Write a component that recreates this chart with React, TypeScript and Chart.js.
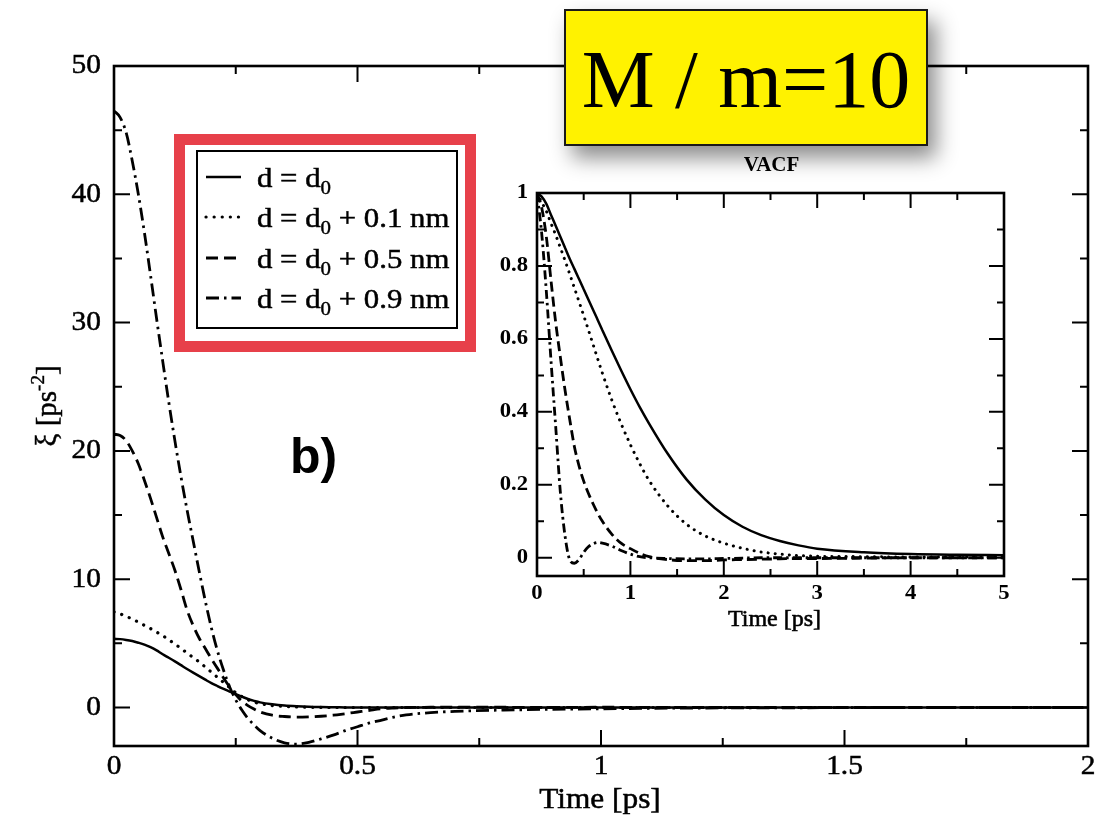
import React, { useEffect, useRef } from 'react';
import { Chart, registerables } from 'chart.js';

Chart.register(...registerables);

// ---- memory kernel ξ(t) [ps^-2] ----
const xiTime = [
  0, 0.0125, 0.025, 0.0375, 0.05, 0.0625, 0.075, 0.0875, 0.1, 0.1125, 0.125, 0.1375,
  0.15, 0.1625, 0.175, 0.1875, 0.2, 0.2125, 0.225, 0.2375, 0.25, 0.2625, 0.275, 0.2875,
  0.3, 0.325, 0.35, 0.375, 0.4, 0.425, 0.45, 0.475, 0.5, 0.525, 0.55, 0.575, 0.6, 0.65,
  0.7, 0.8, 0.9, 1.0, 1.2, 1.4, 1.6, 1.8, 2.0,
];
const xiD0 = [
  5.35, 5.33, 5.27, 5.18, 5.05, 4.9, 4.7, 4.45, 4.15, 3.88, 3.6, 3.3,
  3.0, 2.72, 2.45, 2.17, 1.9, 1.67, 1.45, 1.24, 1.05, 0.85, 0.66, 0.52,
  0.4, 0.25, 0.15, 0.09, 0.05, 0.03, 0.02, 0.01, 0, 0, 0, 0, 0, 0,
  0, 0, 0, 0, 0, 0, 0, 0, 0,
];
const xiD01 = [
  7.45, 7.3, 7.1, 6.9, 6.65, 6.4, 6.15, 5.88, 5.6, 5.28, 4.95, 4.6,
  4.25, 3.9, 3.55, 3.15, 2.75, 2.35, 1.95, 1.55, 1.15, 0.85, 0.6, 0.42,
  0.3, 0.15, 0.08, 0.04, 0.02, 0.01, 0, 0, 0, 0, 0, 0, 0, 0,
  0, 0, 0, 0, 0, 0, 0, 0, 0,
];
const xiD05 = [
  21.3, 21.2, 20.8, 20.0, 19.0, 17.7, 16.3, 14.8, 13.3, 12.0, 10.7, 9.2,
  7.6, 6.4, 5.4, 4.6, 3.8, 3.05, 2.3, 1.6, 1.0, 0.5, 0.15, -0.12,
  -0.35, -0.6, -0.7, -0.75, -0.73, -0.68, -0.6, -0.48, -0.35, -0.22, -0.1, -0.04, 0, 0.02,
  0.03, 0.02, 0, 0.02, 0, 0, 0, 0, 0,
];
const xiD09 = [
  46.5, 46.0, 44.8, 42.6, 40.0, 37.0, 33.7, 30.3, 27.0, 23.8, 20.8, 18.0,
  15.4, 13.0, 10.6, 8.3, 6.2, 4.4, 2.9, 1.6, 0.6, -0.2, -0.85, -1.35,
  -1.8, -2.4, -2.75, -2.85, -2.72, -2.45, -2.15, -1.8, -1.5, -1.2, -0.98, -0.75, -0.58, -0.4,
  -0.3, -0.2, -0.14, -0.1, -0.04, -0.02, 0, 0, 0,
];
const xiXTicks = [0, 0.5, 1, 1.5, 2];
const xiXMinor = [0.25, 0.75, 1.25, 1.75];
const xiYTicks = [0, 10, 20, 30, 40, 50];
const xiYMinor = [5, 15, 25, 35, 45];

// ---- velocity autocorrelation function (inset) ----
const vacfTime = [
  0, 0.05, 0.1, 0.15, 0.2, 0.25, 0.3, 0.35, 0.4, 0.45, 0.5, 0.55, 0.6, 0.65, 0.7,
  0.8, 0.9, 1.0, 1.1, 1.2, 1.4, 1.6, 1.8, 2.0, 2.2, 2.4, 2.6, 2.8, 3.0, 3.5, 4.0, 4.5, 5.0,
];
const vacfD0 = [
  1.0, 0.99, 0.97, 0.94, 0.91, 0.88, 0.85, 0.82, 0.792, 0.764, 0.736, 0.708, 0.68, 0.652, 0.624,
  0.568, 0.514, 0.462, 0.413, 0.368, 0.285, 0.215, 0.16, 0.117, 0.085, 0.062, 0.046, 0.034, 0.025, 0.015, 0.01, 0.008, 0.007,
];
const vacfD01 = [
  1.0, 0.975, 0.95, 0.917, 0.885, 0.85, 0.815, 0.778, 0.74, 0.702, 0.664, 0.625, 0.585, 0.545, 0.506,
  0.433, 0.368, 0.31, 0.258, 0.212, 0.142, 0.092, 0.06, 0.04, 0.026, 0.016, 0.01, 0.006, 0.004, 0.003, 0.002, 0.002, 0.002,
];
const vacfD05 = [
  1.0, 0.96, 0.88, 0.76, 0.645, 0.55, 0.46, 0.38, 0.305, 0.252, 0.21, 0.177, 0.148, 0.122, 0.1,
  0.065, 0.04, 0.025, 0.012, 0.003, -0.005, -0.008, -0.008, -0.006, -0.005, -0.004, -0.003, -0.002, -0.002, -0.001, 0, 0, 0,
];
const vacfD09 = [
  1.0, 0.89, 0.73, 0.54, 0.36, 0.18, 0.06, -0.005, -0.015, -0.005, 0.015, 0.03, 0.038, 0.042, 0.04,
  0.032, 0.02, 0.01, 0.003, 0, -0.002, -0.003, -0.003, -0.002, -0.001, 0, 0, 0, 0, 0, 0, 0, 0,
];
const vacfXTicks = [0, 1, 2, 3, 4, 5];
const vacfXMinor = [0.5, 1.5, 2.5, 3.5, 4.5];
const vacfYTicks = [0, 0.2, 0.4, 0.6, 0.8, 1];
const vacfYMinor = [0.1, 0.3, 0.5, 0.7, 0.9];

// legend: "d = d" + subscript "0" + suffix
const legendSuffix = ['', ' + 0.1 nm', ' + 0.5 nm', ' + 0.9 nm'];

const INK = '#000';
const SERIF = '"Liberation Serif", "Times New Roman", serif';

type LineStyle = { dash: number[]; width: number; cap: CanvasLineCap };
const mainStyles: LineStyle[] = [
  { dash: [], width: 2.5, cap: 'butt' },
  { dash: [0.1, 8], width: 3.2, cap: 'round' },
  { dash: [12, 6], width: 2.8, cap: 'butt' },
  { dash: [13, 5, 2.5, 5], width: 2.8, cap: 'butt' },
];
const insetStyles: LineStyle[] = [
  { dash: [], width: 2.5, cap: 'butt' },
  { dash: [0.1, 7], width: 3, cap: 'round' },
  { dash: [10, 5], width: 2.8, cap: 'butt' },
  { dash: [9, 4, 2.5, 4], width: 2.8, cap: 'butt' },
];

function makeDatasets(time: number[], series: number[][], styles: LineStyle[]) {
  return series.map((vals, i) => ({
    label: 'd = d0' + legendSuffix[i],
    data: vals.map((v, k) => ({ x: time[k], y: v })),
    borderColor: INK,
    borderWidth: styles[i].width,
    borderDash: styles[i].dash,
    borderCapStyle: styles[i].cap,
    pointRadius: 0,
    fill: false,
    cubicInterpolationMode: 'monotone' as const,
  }));
}

// text drawn with a slight horizontal stretch and a thin outline for weight
function text(ctx: CanvasRenderingContext2D, s: string, x: number, y: number, sx: number, weight = 0) {
  ctx.save();
  ctx.translate(x, y);
  ctx.scale(sx, 1);
  ctx.fillText(s, 0, 0);
  if (weight > 0) {
    ctx.lineWidth = weight;
    ctx.strokeStyle = ctx.fillStyle as string;
    ctx.strokeText(s, 0, 0);
  }
  ctx.restore();
}

type AxisCfg = {
  xTicks: number[]; xMinor: number[]; yTicks: number[]; yMinor: number[];
  major: number; minor: number; frame: number;
  tickFont: string; yLabelGap: number; xLabelGap: number; sx: number; weight: number;
};

function drawAxes(chart: any, c: AxisCfg) {
  const { ctx, chartArea: a } = chart;
  const xs = chart.scales.x;
  const ys = chart.scales.y;
  ctx.save();
  ctx.strokeStyle = INK;
  ctx.setLineDash([]);
  ctx.lineWidth = 2;
  ctx.beginPath();
  const tx = (v: number, len: number) => {
    const p = xs.getPixelForValue(v);
    ctx.moveTo(p, a.bottom); ctx.lineTo(p, a.bottom - len);
    ctx.moveTo(p, a.top); ctx.lineTo(p, a.top + len);
  };
  const ty = (v: number, len: number) => {
    const p = ys.getPixelForValue(v);
    ctx.moveTo(a.left, p); ctx.lineTo(a.left + len, p);
    ctx.moveTo(a.right, p); ctx.lineTo(a.right - len, p);
  };
  c.xTicks.forEach((v) => tx(v, c.major));
  c.xMinor.forEach((v) => tx(v, c.minor));
  c.yTicks.forEach((v) => ty(v, c.major));
  c.yMinor.forEach((v) => ty(v, c.minor));
  ctx.stroke();
  ctx.lineWidth = c.frame;
  ctx.strokeRect(a.left, a.top, a.right - a.left, a.bottom - a.top);

  ctx.fillStyle = INK;
  ctx.font = c.tickFont;
  ctx.textBaseline = 'middle';
  ctx.textAlign = 'right';
  c.yTicks.forEach((v) => text(ctx, String(v), a.left - c.yLabelGap, ys.getPixelForValue(v), c.sx, c.weight));
  ctx.textAlign = 'center';
  c.xTicks.forEach((v) => text(ctx, String(v), xs.getPixelForValue(v), a.bottom + c.xLabelGap, c.sx, c.weight));
  ctx.restore();
}

function legendSample(ctx: CanvasRenderingContext2D, s: LineStyle, x0: number, x1: number, y: number) {
  ctx.save();
  ctx.strokeStyle = INK;
  ctx.lineWidth = s.width;
  ctx.lineCap = s.cap;
  ctx.setLineDash(s.dash);
  ctx.beginPath();
  ctx.moveTo(x0, y);
  ctx.lineTo(x1, y);
  ctx.stroke();
  ctx.restore();
}

const mainPlugin = {
  id: 'kernelDecor',
  beforeDraw(chart: any) {
    const { ctx, width, height } = chart;
    ctx.save();
    ctx.fillStyle = '#fff';
    ctx.fillRect(0, 0, width, height);
    ctx.restore();
  },
  afterDatasetsDraw(chart: any) {
    const { ctx, chartArea: a } = chart;
    drawAxes(chart, {
      xTicks: xiXTicks, xMinor: xiXMinor, yTicks: xiYTicks, yMinor: xiYMinor,
      major: 16, minor: 8, frame: 2.6,
      tickFont: `28px ${SERIF}`, yLabelGap: 13, xLabelGap: 21, sx: 1.05, weight: 0.5,
    });
    ctx.save();
    ctx.fillStyle = INK;
    // x title
    ctx.font = `29px ${SERIF}`;
    ctx.textAlign = 'center';
    ctx.textBaseline = 'middle';
    text(ctx, 'Time [ps]', (a.left + a.right) / 2 - 1, a.bottom + 54, 1.08, 0.5);

    // y title, rotated, with superscript
    ctx.save();
    ctx.translate(a.left - 68, (a.top + a.bottom) / 2);
    ctx.rotate(-Math.PI / 2);
    const bigF = `29px ${SERIF}`;
    const supF = `19px ${SERIF}`;
    ctx.font = bigF;
    const w1 = ctx.measureText('ξ [ps').width;
    const w3 = ctx.measureText(']').width;
    ctx.font = supF;
    const w2 = ctx.measureText('-2').width;
    let x = -(w1 + w2 + w3) / 2;
    ctx.textAlign = 'left';
    ctx.textBaseline = 'alphabetic';
    ctx.font = bigF;
    text(ctx, 'ξ [ps', x, 10, 1, 0.5);
    x += w1;
    ctx.font = supF;
    text(ctx, '-2', x, -2, 1, 0.4);
    x += w2;
    ctx.font = bigF;
    text(ctx, ']', x, 10, 1, 0.5);
    ctx.restore();

    // panel tag
    ctx.font = `bold 50px "Liberation Sans", Arial, sans-serif`;
    ctx.textAlign = 'left';
    ctx.textBaseline = 'alphabetic';
    ctx.fillText('b)', 290, 473);

    // legend with red frame
    ctx.fillStyle = '#fff';
    ctx.fillRect(174, 134, 302, 218);
    ctx.strokeStyle = '#E7404A';
    ctx.lineWidth = 11;
    ctx.strokeRect(179.5, 139.5, 291, 207);
    ctx.strokeStyle = INK;
    ctx.lineWidth = 2;
    ctx.strokeRect(197, 151, 260, 177);
    const rows = [177, 217, 258, 298];
    const sx = 1.1;
    rows.forEach((ry, i) => {
      legendSample(ctx, mainStyles[i], 206, 241, ry);
      ctx.fillStyle = INK;
      ctx.textAlign = 'left';
      ctx.textBaseline = 'alphabetic';
      ctx.font = `28px ${SERIF}`;
      let lx = 257;
      text(ctx, 'd = d', lx, ry + 10, sx, 0.5);
      lx += ctx.measureText('d = d').width * sx;
      ctx.font = `19px ${SERIF}`;
      text(ctx, '0', lx, ry + 17, sx, 0.4);
      lx += ctx.measureText('0').width * sx;
      ctx.font = `28px ${SERIF}`;
      text(ctx, legendSuffix[i], lx, ry + 10, sx, 0.5);
    });
    ctx.restore();
  },
};

const insetPlugin = {
  id: 'vacfDecor',
  afterDatasetsDraw(chart: any) {
    const { ctx, chartArea: a } = chart;
    drawAxes(chart, {
      xTicks: vacfXTicks, xMinor: vacfXMinor, yTicks: vacfYTicks, yMinor: vacfYMinor,
      major: 15, minor: 7, frame: 2.6,
      tickFont: `bold 21px ${SERIF}`, yLabelGap: 9, xLabelGap: 18, sx: 1.08, weight: 0,
    });
    ctx.save();
    ctx.fillStyle = INK;
    ctx.textAlign = 'center';
    ctx.textBaseline = 'middle';
    ctx.font = `24px ${SERIF}`;
    text(ctx, 'Time [ps]', (a.left + a.right) / 2 + 4, a.bottom + 44, 1.0, 0.6);
    ctx.font = `bold 21px ${SERIF}`;
    text(ctx, 'VACF', (a.left + a.right) / 2 + 1, a.top - 27, 1.0, 0);
    ctx.restore();
  },
};

function linearScale(min: number, max: number) {
  return { type: 'linear' as const, min, max, display: false };
}

export default function App() {
  const mainRef = useRef<HTMLCanvasElement>(null);
  const insetRef = useRef<HTMLCanvasElement>(null);

  useEffect(() => {
    const main = new Chart(mainRef.current!, {
      type: 'line',
      data: { datasets: makeDatasets(xiTime, [xiD0, xiD01, xiD05, xiD09], mainStyles) as any },
      options: {
        responsive: false,
        animation: false,
        events: [],
        layout: { padding: { left: 114, top: 66, right: 19, bottom: 71 } },
        scales: { x: linearScale(0, 2), y: linearScale(-3, 50) },
        plugins: { legend: { display: false }, tooltip: { enabled: false } },
      },
      plugins: [mainPlugin],
    });
    const inset = new Chart(insetRef.current!, {
      type: 'line',
      data: { datasets: makeDatasets(vacfTime, [vacfD0, vacfD01, vacfD05, vacfD09], insetStyles) as any },
      options: {
        responsive: false,
        animation: false,
        events: [],
        layout: { padding: { left: 57, top: 53, right: 36, bottom: 64 } },
        scales: { x: linearScale(0, 5), y: linearScale(-0.05, 1) },
        plugins: { legend: { display: false }, tooltip: { enabled: false } },
      },
      plugins: [insetPlugin],
    });
    return () => {
      main.destroy();
      inset.destroy();
    };
  }, []);

  return (
    <div style={{ position: 'absolute', left: 0, top: 0, width: 1107, height: 817, overflow: 'hidden', background: '#fff' }}>
      <canvas ref={mainRef} width={1107} height={817} style={{ position: 'absolute', left: 0, top: 0 }} />
      <canvas ref={insetRef} width={560} height={500} style={{ position: 'absolute', left: 480, top: 140 }} />
      <div
        style={{
          position: 'absolute', left: 564, top: 9, width: 364, height: 137, boxSizing: 'border-box',
          background: '#FFF200', border: '2px solid #1a1a1a',
          boxShadow: '8px 12px 20px rgba(0,0,0,0.45)',
          display: 'flex', alignItems: 'center', justifyContent: 'center',
          fontFamily: SERIF, fontSize: 82, color: '#000', lineHeight: 1, paddingTop: 4,
        }}
      >
        M / m=10
      </div>
    </div>
  );
}
